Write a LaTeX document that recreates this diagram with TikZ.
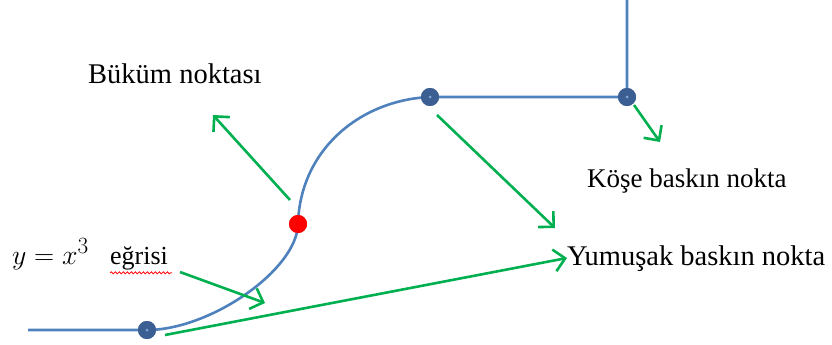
\documentclass[tikz,border=0pt]{standalone}
\usepackage{graphicx}
\usepackage{fontspec}
\setmainfont{Liberation Serif}
\usetikzlibrary{arrows.meta,decorations.pathmorphing}
\definecolor{curveblue}{HTML}{4F81BD}
\definecolor{dotblue}{HTML}{3B5F92}
\definecolor{arrgreen}{HTML}{00B050}
\tikzset{
  curve/.style={draw=curveblue, line width=2.6pt},
  garrow/.style={draw=arrgreen, line width=2.6pt, -{Straight Barb[length=11pt,width=22pt,line width=2.6pt]}},
  bdot/.style={circle, fill=dotblue, minimum size=18pt, inner sep=0pt},
  rdot/.style={circle, fill=red, minimum size=18pt, inner sep=0pt},
  lbl/.style={font=\fontsize{28.5}{31}\selectfont, inner sep=0pt, anchor=base west},
}
\begin{document}
\begin{tikzpicture}[x=1pt,y=-1pt]
\useasboundingbox (0,0) rectangle (832,345);
% points
\coordinate (L) at (28,330);
\coordinate (T) at (627,0);
\node[bdot] (d1) at (147,330) {};
\node[rdot] (r) at (298,224) {};
\node[bdot] (d2) at (430,97) {};
\node[bdot] (d3) at (627,97) {};
% curve
\draw[curve] (L) -- (d1.center) .. controls (210,330) and (297,270) .. (r.center)
  .. controls (300,150) and (360,100) .. (d2.center) -- (d3.center) -- (T);
\node[bdot] at (d1) {};
\node[rdot] at (r) {};
\node[bdot] at (d2) {};
\node[bdot] at (d3) {};
\fill[curveblue!70!white] (d1) circle (1.5pt) (d2) circle (1.5pt) (d3) circle (1.5pt);
% labels
\node[lbl] (buk) at (88,84) {Büküm noktası};
\node[lbl, font=\fontsize{27}{30}\selectfont] (kose) at (587,187) {Köşe baskın nokta};
\node[lbl] (yum) at (567,265) {Yumuşak baskın nokta};
\node[lbl, font=\fontsize{24.88}{28}\selectfont] (eq) at (12,264) {\scalebox{1.12}{$y=x^3$}};
\node[lbl, font=\fontsize{26}{29}\selectfont] (egr) at (110,264) {eğrisi};
\draw[red, line width=0.8pt, decorate, decoration={snake, amplitude=1pt, segment length=4pt}] (egr.south west) ++(0,3) -- ++(62,0);
% arrows
\coordinate (a1s) at (290,200);
\coordinate (a1e) at (213,115);
\draw[garrow] (a1s) -- (a1e);
\coordinate (a2s) at (437,115);
\coordinate (a2e) at (555,228);
\draw[garrow] (a2s) -- (a2e);
\coordinate (a3s) at (634,105);
\coordinate (a3e) at (660,142);
\draw[garrow] (a3s) -- (a3e);
\coordinate (a4s) at (180,272);
\coordinate (a4e) at (265,303);
\draw[garrow] (a4s) -- (a4e);
\coordinate (a5s) at (165,335);
\draw[garrow] (a5s) -- (yum.west |- 0,258);
\end{tikzpicture}
\end{document}
